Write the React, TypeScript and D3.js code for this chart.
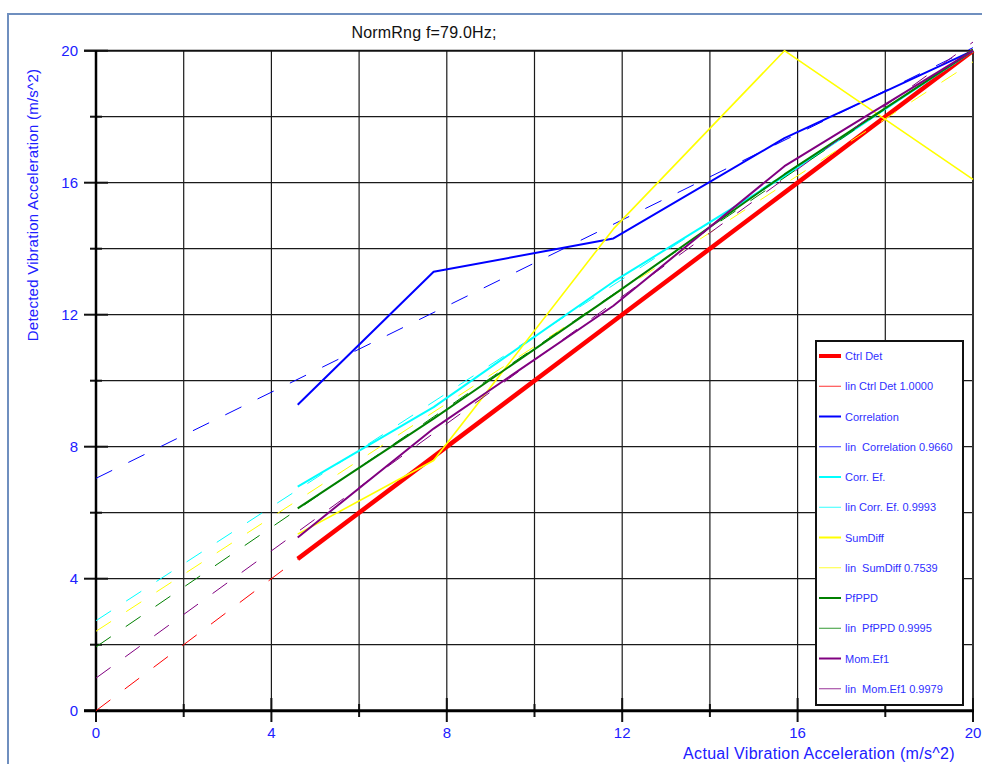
import React from "react";
import * as d3 from "d3";

// ---------- data ----------
const xValues = [4.6, 7.7, 11.8, 15.7, 20];
const ctrlDet = [4.6, 7.7, 11.8, 15.7, 20];
const correlation = [9.27, 13.3, 14.31, 17.35, 20];
const corrEf = [6.79, 9.2, 13.0, 16.2, 20];
const sumDiff = [5.35, 7.58, 14.6, 20, 16.1];
const pfppd = [6.13, 8.85, 12.6, 16.25, 20];
const momEf1 = [5.25, 8.55, 12.27, 16.5, 20];

const seriesNames = ["Ctrl Det", "Correlation", "Corr. Ef.", "SumDiff", "PfPPD", "Mom.Ef1"];
const fitLabels = [
  "lin Ctrl Det 1.0000",
  "lin  Correlation 0.9660",
  "lin Corr. Ef. 0.9993",
  "lin  SumDiff 0.7539",
  "lin  PfPPD 0.9995",
  "lin  Mom.Ef1 0.9979",
];
const seriesValues = [ctrlDet, correlation, corrEf, sumDiff, pfppd, momEf1];

const xTicks = [0, 4, 8, 12, 16, 20];
const yTicks = [0, 4, 8, 12, 16, 20];
const gridSteps = [2, 4, 6, 8, 10, 12, 14, 16, 18];
const minorTicks = [2, 6, 10, 14, 18];

const titleText = "NormRng f=79.0Hz;";
const xAxisTitle = "Actual Vibration Acceleration (m/s^2)";
const yAxisTitle = "Detected Vibration Acceleration (m/s^2)";

// ---------- styles ----------
const colors = ["#ff0000", "#0000ff", "#00ffff", "#ffff00", "#008000", "#800080"];
const widths = [4.5, 2, 2, 1.6, 2, 2];
const FONT = "'Liberation Sans', Arial, sans-serif";
const BLUE_TEXT = "#2020ff";

function linFit(xs: number[], ys: number[]) {
  const mx = d3.mean(xs) as number;
  const my = d3.mean(ys) as number;
  let sxy = 0;
  let sxx = 0;
  xs.forEach((x, i) => {
    sxy += (x - mx) * (ys[i] - my);
    sxx += (x - mx) * (x - mx);
  });
  const slope = sxy / sxx;
  return { slope, intercept: my - slope * mx };
}

export default function App() {
  const W = 982;
  const H = 764;
  const x = d3.scaleLinear().domain([0, 20]).range([96, 973]);
  const y = d3.scaleLinear().domain([0, 20]).range([710.7, 50.7]);

  const line = d3
    .line<[number, number]>()
    .x((d) => x(d[0]))
    .y((d) => y(d[1]));

  const legX = 816;
  const legY = 341;
  const legW = 147;
  const legH = 364;
  const rowGap = 30.25;
  const firstRow = 356;

  return (
    <svg
      width={W}
      height={H}
      style={{ position: "fixed", left: 0, top: 0, display: "block", background: "#fff" }}
      fontFamily={FONT}
    >
      {/* outer frame */}
      <rect x={8} y={14} width={1100} height={900} fill="#fff" stroke="#6f8fbf" strokeWidth={2} />

      {/* title */}
      <text x={424} y={38} textAnchor="middle" fontSize={16} fill="#111" letterSpacing={0.2}>
        {titleText}
      </text>

      {/* grid */}
      {gridSteps.map((g) => (
        <line key={"gx" + g} x1={x(g)} x2={x(g)} y1={y(20)} y2={y(0)} stroke="#1a1a1a" strokeWidth={1.2} />
      ))}
      {gridSteps.map((g) => (
        <line key={"gy" + g} x1={x(0)} x2={x(20)} y1={y(g)} y2={y(g)} stroke="#1a1a1a" strokeWidth={1.2} />
      ))}
      {/* top and right frame of plot */}
      <line x1={x(0) - 12} x2={x(20)} y1={y(20)} y2={y(20)} stroke="#111" strokeWidth={2} />
      <line x1={x(20)} x2={x(20)} y1={y(20)} y2={y(0)} stroke="#333" strokeWidth={2} />

      {/* y axis ticks */}
      {yTicks.map((t) => (
        <line key={"yt" + t} x1={84} x2={108} y1={y(t)} y2={y(t)} stroke="#111" strokeWidth={2} />
      ))}
      {minorTicks.map((t) => (
        <line key={"ym" + t} x1={90} x2={102} y1={y(t)} y2={y(t)} stroke="#111" strokeWidth={2} />
      ))}
      {/* x axis ticks */}
      {xTicks.map((t) => (
        <line key={"xt" + t} x1={x(t)} x2={x(t)} y1={698} y2={722} stroke="#111" strokeWidth={2} />
      ))}
      {minorTicks.map((t) => (
        <line key={"xm" + t} x1={x(t)} x2={x(t)} y1={704} y2={717} stroke="#111" strokeWidth={2} />
      ))}

      {/* axes */}
      <line x1={x(0)} x2={x(0)} y1={y(20)} y2={y(0) + 1.5} stroke="#000" strokeWidth={2.5} />
      <line x1={x(0) - 12} x2={x(20) + 1} y1={y(0)} y2={y(0)} stroke="#000" strokeWidth={3} />

      {/* tick labels */}
      {yTicks.map((t) => (
        <text key={"yl" + t} x={78} y={y(t) + 5.5} textAnchor="end" fontSize={15} fill={BLUE_TEXT}>
          {t}
        </text>
      ))}
      {xTicks.map((t) => (
        <text key={"xl" + t} x={x(t)} y={738} textAnchor="middle" fontSize={15} fill={BLUE_TEXT}>
          {t}
        </text>
      ))}

      {/* axis titles */}
      <text x={819} y={759} textAnchor="middle" fontSize={16} letterSpacing={0.3} fill={BLUE_TEXT}>
        {xAxisTitle}
      </text>
      <text
        x={0}
        y={0}
        transform={`translate(38, 205) rotate(-90)`}
        textAnchor="middle"
        fontSize={15}
        letterSpacing={0.25}
        fill={BLUE_TEXT}
      >
        {yAxisTitle}
      </text>

      {/* data lines + fits */}
      {seriesValues.map((vals, i) => {
        const pts: [number, number][] = xValues.map((xv, j) => [xv, vals[j]]);
        const fit = linFit(xValues, vals);
        const fitPts: [number, number][] = [
          [0, fit.intercept],
          [20, fit.intercept + fit.slope * 20],
        ];
        return (
          <g key={"s" + i}>
            <path d={line(pts) || ""} fill="none" stroke={colors[i]} strokeWidth={widths[i]} strokeLinejoin="round" />
            <path d={line(fitPts) || ""} fill="none" stroke={colors[i]} strokeWidth={1} strokeDasharray="18 18" />
          </g>
        );
      })}

      {/* legend */}
      <rect x={legX} y={legY} width={legW} height={legH} fill="#fff" stroke="#111" strokeWidth={2} />
      {seriesNames.map((name, i) => {
        const r1 = firstRow + i * 2 * rowGap;
        const r2 = r1 + rowGap;
        return (
          <g key={"lg" + i}>
            <line x1={819} x2={841} y1={r1} y2={r1} stroke={colors[i]} strokeWidth={i === 0 ? 4 : 2} />
            <text x={845} y={r1 + 4} fontSize={11} fill="#3030ff" style={{ whiteSpace: "pre" }}>
              {name}
            </text>
            <line x1={819} x2={841} y1={r2} y2={r2} stroke={colors[i]} strokeWidth={1} opacity={0.8} />
            <text x={845} y={r2 + 4} fontSize={11} fill="#3030ff" style={{ whiteSpace: "pre" }}>
              {fitLabels[i]}
            </text>
          </g>
        );
      })}
    </svg>
  );
}
